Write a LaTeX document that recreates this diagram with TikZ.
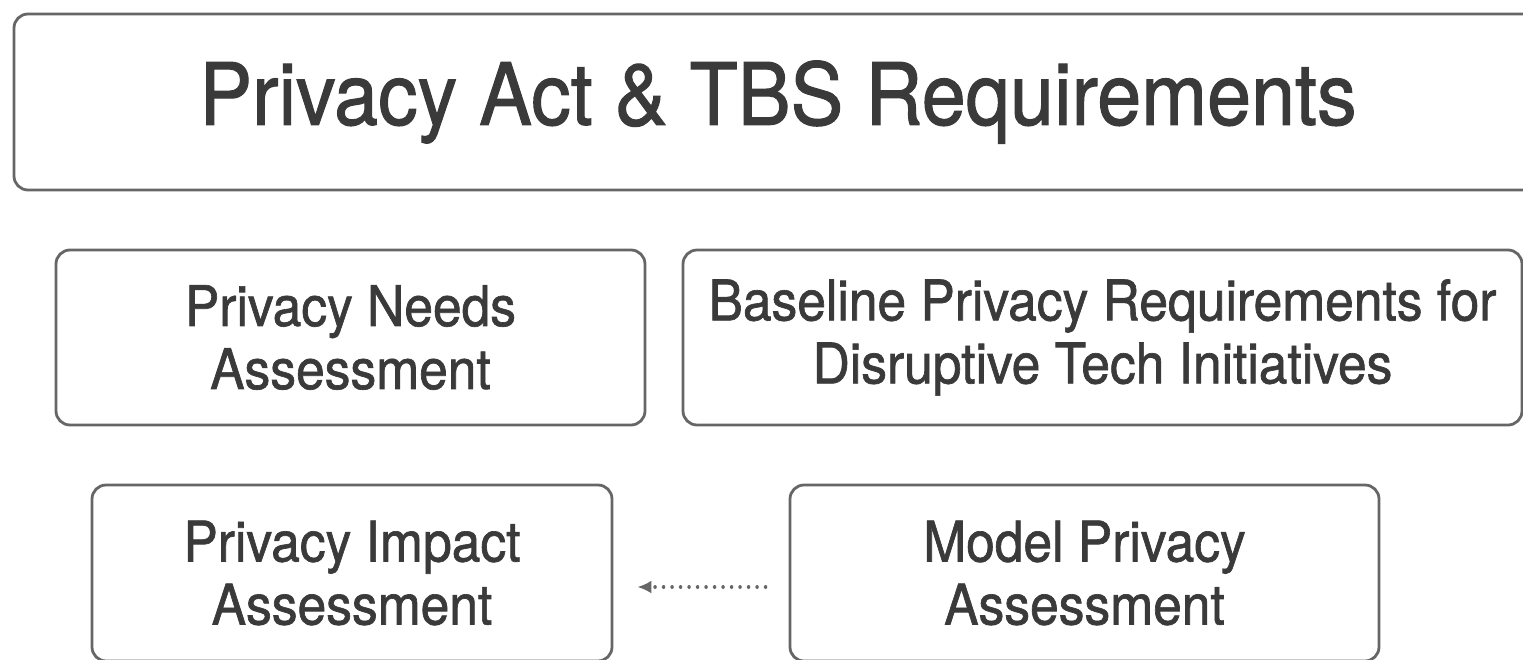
\documentclass[tikz,border=0pt]{standalone}
\usepackage{fontspec}
\setmainfont{TeX Gyre Heros}[FakeStretch=0.92, FakeBold=1.2]
\usetikzlibrary{arrows.meta}
\definecolor{txtgray}{HTML}{3A3A3A}
\definecolor{linegray}{HTML}{666666}
\tikzset{
  boxstyle/.style={draw=linegray, line width=2.8pt, rounded corners=14pt, inner sep=0pt, text=txtgray, align=center},
  titlefont/.style={font=\fontsize{86}{96}\selectfont},
  bodyfont/.style={font=\fontsize{56}{63}\selectfont},
  dotarrow/.style={draw=linegray, line width=3.4pt, dash pattern=on 0.1pt off 8.4pt, line cap=round, -{Latex[length=14pt,width=13pt]}}
}
\begin{document}
\begin{tikzpicture}[x=1pt,y=-1pt]
\useasboundingbox (0,0) rectangle (1523,659);
\clip (0,0) rectangle (1523,659);
\node[boxstyle, titlefont, minimum width=1528pt, minimum height=176pt] (req) at (778,102) {Privacy Act \& TBS Requirements};
\node[boxstyle, bodyfont, minimum width=589pt, minimum height=175pt] (pna) at (350.5,337.5) {Privacy Needs\\Assessment};
\node[boxstyle, bodyfont, minimum width=839pt, minimum height=175pt] (bpr) at (1102.5,337.5) {Baseline Privacy Requirements for\\Disruptive Tech Initiatives};
\node[boxstyle, bodyfont, minimum width=520pt, minimum height=176pt] (pia) at (352,573) {Privacy Impact\\Assessment};
\node[boxstyle, bodyfont, minimum width=589pt, minimum height=176pt] (mpa) at (1084.5,573) {Model Privacy\\Assessment};
\draw[dotarrow, shorten <=23pt, shorten >=24pt] ([yshift=-14pt]mpa.west) -- ([yshift=-14pt]pia.east);
\end{tikzpicture}
\end{document}
